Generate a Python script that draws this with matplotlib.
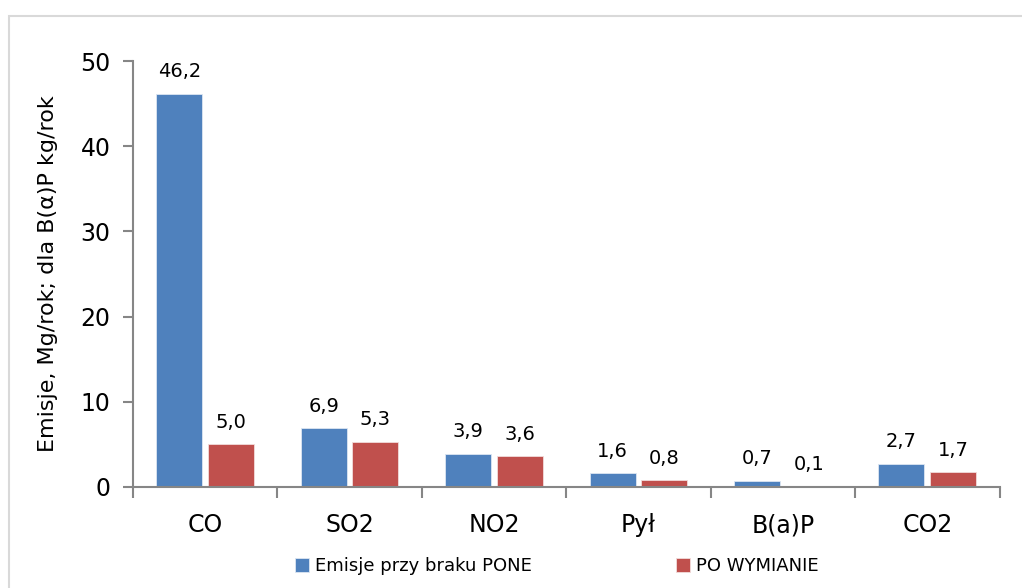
import numpy as np
import matplotlib
matplotlib.use("Agg")
import matplotlib.pyplot as plt
from matplotlib.patches import Rectangle

categories = ["CO", "SO2", "NO2", "Pył", "B(a)P", "CO2"]
before = [46.2, 6.9, 3.9, 1.6, 0.7, 2.7]
after = [5.0, 5.3, 3.6, 0.8, 0.1, 1.7]
series_names = ["Emisje przy braku PONE", "PO WYMIANIE"]
yticks = [0, 10, 20, 30, 40, 50]

BLUE = "#4F81BD"
RED = "#C0504D"
AXIS = "#868686"

plt.rcParams['font.family'] = ['DejaVu Sans']

fig = plt.figure(figsize=(10.22, 5.88), dpi=100)
# light frame around the chart area
fig.patches.append(Rectangle((9 / 1022, -0.1), 1.2, 1 - 16 / 588 + 0.1,
                             transform=fig.transFigure, fill=False,
                             edgecolor="#D9D9D9", linewidth=1.5))

ax = fig.add_axes([0.130, 0.172, 0.848, 0.724])

x = np.arange(len(categories))
w = 0.318
off = 0.179
b1 = ax.bar(x - off, before, w, color=BLUE, edgecolor="#DCE6F2", linewidth=0.6,
            label=series_names[0])
b2 = ax.bar(x + off, after, w, color=RED, edgecolor="#F2DCDB", linewidth=0.6,
            label=series_names[1])

for bars, vals in ((b1, before), (b2, after)):
    for rect, v in zip(bars, vals):
        ax.annotate(f"{v:.1f}".replace(".", ","),
                    (rect.get_x() + rect.get_width() / 2, v),
                    xytext=(0, 9), textcoords="offset points",
                    ha="center", va="bottom", fontsize=14)

ax.set_xlim(-0.5, len(categories) - 0.5)
ax.set_ylim(0, 50)
ax.set_yticks(yticks)
ax.set_yticklabels([str(t) for t in yticks], fontsize=17)
ax.set_xticks(x)
ax.set_xticklabels(categories, fontsize=17)
ax.tick_params(axis="x", length=0, pad=19)
ax.tick_params(axis="y", length=7, color=AXIS, width=1.5, pad=9)

# category boundary tick marks on x axis
ax.set_xticks(np.arange(len(categories) + 1) - 0.5, minor=True)
ax.tick_params(axis="x", which="minor", length=8, color=AXIS, width=1.5)

for s in ("top", "right"):
    ax.spines[s].set_visible(False)
for s in ("left", "bottom"):
    ax.spines[s].set_color(AXIS)
    ax.spines[s].set_linewidth(1.5)

ax.set_ylabel("Emisje, Mg/rok; dla B(α)P kg/rok", fontsize=16, labelpad=16)

fig.legend(handles=[b1, b2], labels=series_names, loc="center",
           bbox_to_anchor=(0.545, 0.037), ncol=2, frameon=False,
           fontsize=13, handlelength=0.75, handleheight=0.75,
           handletextpad=0.35, columnspacing=8.0)

fig.savefig("out.png", dpi=100, facecolor="white")
